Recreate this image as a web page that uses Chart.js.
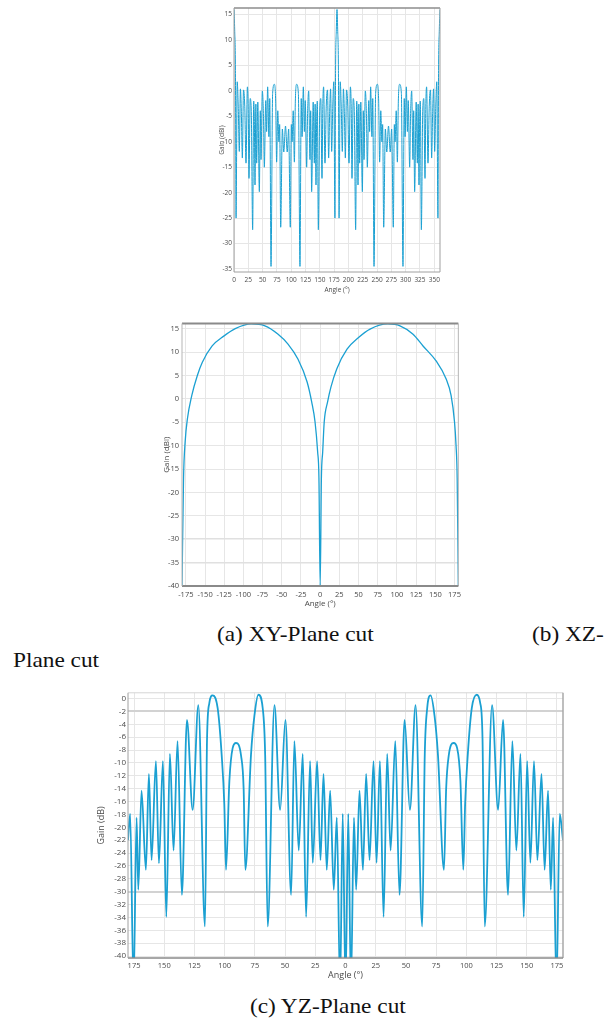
<!DOCTYPE html>
<html lang="en">
<head>
  <meta charset="UTF-8">
  <title>Gain plane cuts</title>
  <script src="https://cdn.jsdelivr.net/npm/chart.js"></script>
  <style>
    body {
      margin: 0;
      width: 612px;
      height: 1019px;
      background: #fff;
      position: relative;
      overflow: hidden;
    }
    canvas {
      position: absolute;
    }
    .cap {
      position: absolute;
      font-family: "Liberation Serif", "Times New Roman", serif;
      font-size: 21px;
      line-height: 1;
      color: #111;
      white-space: nowrap;
      transform: scaleX(1.11);
      transform-origin: left top;
    }
  </style>
</head>
<body>
  <canvas id="chartXY" width="236" height="298" style="left:212px; top:0px;"></canvas>
  <canvas id="chartXZ" width="310" height="298" style="left:155px; top:316px;"></canvas>
  <canvas id="chartYZ" width="480" height="298" style="left:90px; top:686px;"></canvas>

  <div class="cap" style="left:217px; top:624px;">(a) XY-Plane cut</div>
  <div class="cap" style="left:532px; top:624px;">(b) XZ-</div>
  <div class="cap" style="left:13px; top:650px;">Plane cut</div>
  <div class="cap" style="left:250px; top:996px;">(c) YZ-Plane cut</div>

  <script>
    // (a) XY-plane cut, angle 0..360 (deg), gain (dBi)
    const xyAngle = [
      0, 1.2, 2.5, 3.6, 5.6, 7.4, 9.3, 11.2, 12.8, 14.6, 16.6, 18.8, 21, 23.4, 24.8, 26.2, 28.3, 30.2, 32.6, 34.4,
      35.6, 36.7, 38.2, 39.6, 41.6, 44.3, 46, 47.2, 49.5, 51.5, 53, 55.5, 57, 58.8, 61, 62.5, 64.7, 67.5, 70.5, 72.8,
      74.5, 76.5, 78.5, 79.8, 81.6, 84.5, 87, 90,
      93, 95.5, 98.4, 100.2, 101.5, 103.5, 105.5, 107.2, 109.5, 112.5, 115.3, 117.5, 119, 121.2, 123, 124.5, 127, 128.5,
      130.5, 132.8, 134, 135.7, 138.4, 140.4, 141.8, 143.3, 144.4, 145.6, 147.4, 149.8, 151.7, 153.8, 155.2, 156.6, 159,
      161.2, 163.4, 165.4, 167.2, 168.8, 170.7, 172.6, 174.4, 176.4, 177.5, 178.8, 180,
      181.2, 182.5, 183.6, 185.6, 187.4, 189.3, 191.2, 192.8, 194.6, 196.6, 198.8, 201, 203.4, 204.8, 206.2, 208.3, 210.2,
      212.6, 214.4, 215.6, 216.7, 218.2, 219.6, 221.6, 224.3, 226, 227.2, 229.5, 231.5, 233, 235.5, 237, 238.8, 241, 242.5,
      244.7, 247.5, 250.5, 252.8, 254.5, 256.5, 258.5, 259.8, 261.6, 264.5, 267, 270,
      273, 275.5, 278.4, 280.2, 281.5, 283.5, 285.5, 287.2, 289.5, 292.5, 295.3, 297.5, 299, 301.2, 303, 304.5, 307, 308.5,
      310.5, 312.8, 314, 315.7, 318.4, 320.4, 321.8, 323.3, 324.4, 325.6, 327.4, 329.8, 331.7, 333.8, 335.2, 336.6, 339,
      341.2, 343.4, 345.4, 347.2, 348.8, 350.7, 352.6, 354.4, 356.4, 357.5, 358.8, 360
    ];
    const xyGain = [
      16, 12, 4, -25, 1.8, -3, -11.9, 0.4, -4, -13.2, 0.2, -3, -14.2, 0.8, -3, -17.2, -1.5, -4, -27.3, -2,
      -6, -18.5, -2.6, -14.2, -2.2, -19.8, -3.9, -13.5, 0, -5, -15, -1.9, -8, 0.8, -9, -1.5, -34.5, -0.5, 1.3, -2,
      -14, -3.9, -10, -6.6, -26.8, -7.5, -12, -6.9,
      -12, -7.5, -26.8, -6.6, -10, -3.9, -14, -2, 1.3, -0.5, -34.5, -1.5, -9, 0.8, -8, -1.9, -15, -5,
      0, -13.5, -3.9, -19.8, -2.2, -14.2, -2.6, -18.5, -6, -2, -27.3, -4, -1.5, -17.2, -3, 0.8, -14.2,
      -3, 0.2, -13.2, -4, 0.4, -11.9, -3, 1.8, -25, 4, 12, 16,
      12, 4, -25, 1.8, -3, -11.9, 0.4, -4, -13.2, 0.2, -3, -14.2, 0.8, -3, -17.2, -1.5, -4,
      -27.3, -2, -6, -18.5, -2.6, -14.2, -2.2, -19.8, -3.9, -13.5, 0, -5, -15, -1.9, -8, 0.8, -9, -1.5,
      -34.5, -0.5, 1.3, -2, -14, -3.9, -10, -6.6, -26.8, -7.5, -12, -6.9,
      -12, -7.5, -26.8, -6.6, -10, -3.9, -14, -2, 1.3, -0.5, -34.5, -1.5, -9, 0.8, -8, -1.9, -15, -5,
      0, -13.5, -3.9, -19.8, -2.2, -14.2, -2.6, -18.5, -6, -2, -27.3, -4, -1.5, -17.2, -3, 0.8, -14.2,
      -3, 0.2, -13.2, -4, 0.4, -11.9, -3, 1.8, -25, 4, 12, 16
    ];
    const xyTicksX = [0, 25, 50, 75, 100, 125, 150, 175, 200, 225, 250, 275, 300, 325, 350];
    const xyTicksY = [15, 10, 5, 0, -5, -10, -15, -20, -25, -30, -35];

    // (b) XZ-plane cut, angle -180..180 (deg), gain (dBi)
    const xzAngle = [
      -180, -178, -175.9, -172.9, -167.3, -160, -153.5, -140.7, -125.6, -110.6, -90, -72, -54.8, -41.9, -29, -17, -11,
      -6.7, -3.3, -1.6, 0, 1.6, 3.3, 5.3, 9.6, 14, 21.6, 35, 50, 65, 88, 104, 121, 134, 151, 164, 170.6, 175, 177,
      178.5, 180
    ];
    const xzGain = [
      -40, -17, -9.2, -4.2, 0.7, 5, 7.8, 11.3, 13.4, 15, 16, 15.6, 13.8, 11.7, 8.5, 3.6, -0.7,
      -4.9, -11.3, -16.9, -40, -16.9, -11.3, -4.9, -0.7, 2.5, 6.4, 10.6, 13.1, 14.9, 16, 15.6, 13.8, 11.3, 8.1, 4.3, 0.7, -4.9, -9.9,
      -17, -40
    ];
    const xzTicksX = [-175, -150, -125, -100, -75, -50, -25, 0, 25, 50, 75, 100, 125, 150, 175];
    const xzTicksY = [15, 10, 5, 0, -5, -10, -15, -20, -25, -30, -35, -40];

    // (c) YZ-plane cut, angle -180..180 (deg), gain (dB)
    const yzAngle = [
      -180, -178.2, -175.4, -172.9, -171.5, -168.8, -165.2, -162.7, -160.5, -156.9, -154.4, -151.1, -148.3, -145.3,
      -142.3, -139, -135.4, -131.2, -126.5, -121.8, -116.3, -114.6, -112.7, -110, -105.8, -102.5, -100.3, -98.9, -96.1,
      -93.4, -90.6, -86.4, -84.3, -82.9, -78.2, -75.4, -72.1, -68.5, -66.5, -64.4, -58.8, -54.1, -49.7, -45, -42.3,
      -38.7, -35.4, -32.6, -29.3, -27.1, -23.5, -20.7, -18.2, -15.5, -12.7, -9.7, -7.2, -4.5, -2.3, 0,
      2.3, 4.5, 7, 8.8, 11.6, 14.4, 17.1, 19.9, 23.2, 25.7, 28.5, 31.5, 34.5, 37.3, 41.2, 44.7, 48.9, 53.3, 58, 63.5,
      65.6, 67.6, 70.4, 73.7, 76.5, 81.5, 83.3, 85.4, 89.5, 92.4, 95.1, 97.5, 99, 101.2, 104.5, 108.6, 111.5, 113.4,
      115.2, 121.3, 126.3, 130.4, 134.5, 138.1, 141.4, 144.8, 147.5, 150.3, 153, 156, 158.8, 162.2, 164.8, 167.6,
      169.9, 171.8, 174.6, 177.3, 180
    ];
    const yzGain = [
      -22, -17.9, -45, -18.5, -29.7, -14.3, -26.6, -11.7, -25.1, -9.7, -25.6, -9.7, -33.9, -8.6,
      -23.6, -6.6, -30.5, -3.3, -17.3, -1.0, -35.4, -6.3, -0.7, 0.5, -1.5, -8.7, -16.4, -26.6, -12.8,
      -7.7, -6.9, -8.9, -14, -26.6, -8.7, -2.7, 0.6, -1.5, -8.7, -35.4, -1.0, -17.3, -3.3, -30.5, -6.6,
      -23.6, -8.6, -33.9, -9.7, -25.5, -9.7, -25.1, -11.7, -26.6, -14.3, -29.7, -18.5, -45, -17.9, -45,
      -17.9, -45, -18.5, -29.7, -14.3, -26.6, -11.7, -25.1, -9.7, -25.5, -9.7, -33.9, -8.6, -23.6, -6.6, -30.5, -3.3, -17.3, -1.0, -35.4,
      -8.7, -1.5, 0.5, -2.7, -8.7, -26.6, -14, -8.9, -6.9, -7.7, -12.8, -26.6, -16.4, -8.7, -1.5, 0.6, -0.7, -6.3,
      -35.4, -1.0, -17.3, -3.3, -30.5, -6.6, -23.6, -8.6, -33.9, -9.7, -25.5, -9.7, -25.1, -11.7, -26.6, -14.3,
      -29.7, -18.5, -45, -17.9, -22
    ];
    const yzTicksX = [-175, -150, -125, -100, -75, -50, -25, 0, 25, 50, 75, 100, 125, 150, 175];
    const yzLabelsX = ['175', '150', '125', '100', '75', '50', '25', '0', '25', '50', '75', '100', '125', '150', '175'];
    const yzTicksY = [0, -2, -4, -6, -8, -10, -12, -14, -16, -18, -20, -22, -24, -26, -28, -30, -32, -34, -36, -38, -40];

    Chart.defaults.font.family = "'Open Sans', 'Noto Sans', sans-serif";
    Chart.defaults.color = "#4a4a4a";

    // draws the outline of the plot area, one side at a time
    const framePlugin = {
      id: "frame",
      afterDraw(chart, args, opts) {
        const { ctx, chartArea: a } = chart;
        const side = (s, x1, y1, x2, y2) => {
          if (!s) return;
          ctx.strokeStyle = s[0];
          ctx.lineWidth = s[1];
          ctx.beginPath();
          ctx.moveTo(x1, y1);
          ctx.lineTo(x2, y2);
          ctx.stroke();
        };
        ctx.save();
        side(opts.top, a.left, a.top, a.right, a.top);
        side(opts.right, a.right, a.top, a.right, a.bottom);
        side(opts.bottom, a.left, a.bottom, a.right, a.bottom);
        side(opts.left, a.left, a.top, a.left, a.bottom);
        ctx.restore();
      }
    };

    function createChart(id, angles, gains, o) {
      const points = angles.map((a, i) => ({ x: a, y: gains[i] }));
      const dark = (v) => o.darkY && o.darkY.includes(v);
      return new Chart(document.getElementById(id), {
        type: "line",
        data: {
          datasets: [{
            data: points,
            borderColor: "#1ba0d2",
            borderWidth: o.lineWidth,
            pointRadius: 0,
            fill: false,
            cubicInterpolationMode: "monotone"
          }]
        },
        options: {
          responsive: false,
          animation: false,
          events: [],
          layout: { padding: o.padding },
          plugins: {
            legend: { display: false },
            tooltip: { enabled: false },
            frame: o.frame
          },
          scales: {
            x: {
              type: "linear",
              min: o.xMin,
              max: o.xMax,
              afterBuildTicks: (s) => { s.ticks = o.ticksX.map(v => ({ value: v })); },
              afterFit: (s) => { s.height = o.xAxisHeight; },
              grid: { color: "#e6e6e6", lineWidth: 1, drawTicks: false },
              border: { display: false },
              ticks: {
                autoSkip: false,
                maxRotation: 0,
                padding: o.xTickPad,
                font: { size: o.tickSize },
                callback: o.labelsX ? (v, i) => o.labelsX[i] : (v) => v
              },
              title: {
                display: true,
                text: "Angle (°)",
                font: { size: o.titleSize },
                padding: { top: 0, bottom: o.xTitlePad }
              }
            },
            y: {
              min: o.yMin,
              max: o.yMax,
              afterBuildTicks: (s) => { s.ticks = o.ticksY.map(v => ({ value: v })); },
              afterFit: (s) => { s.width = o.yAxisWidth; },
              grid: {
                color: (c) => dark(c.tick.value) ? o.darkColor : "#e6e6e6",
                lineWidth: (c) => dark(c.tick.value) ? o.darkWidth : 1,
                drawTicks: false
              },
              border: { display: false },
              ticks: {
                autoSkip: false,
                padding: o.yTickPad,
                font: { size: o.yTickSize || o.tickSize },
                callback: (v) => v
              },
              title: {
                display: true,
                text: o.yTitle,
                font: { size: o.titleSize },
                padding: { top: o.yTitlePad, bottom: 0 }
              }
            }
          }
        },
        plugins: [framePlugin]
      });
    }

    createChart("chartXY", xyAngle, xyGain, {
      lineWidth: 1,
      padding: { top: 8, right: 8, left: 0, bottom: 0 },
      xMin: 0, xMax: 360, yMin: -35.6, yMax: 16.3,
      ticksX: xyTicksX, ticksY: xyTicksY,
      xAxisHeight: 26, yAxisWidth: 22,
      tickSize: 6.5, titleSize: 6.5,
      xTickPad: 4, yTickPad: 2, xTitlePad: 4, yTitlePad: 6,
      yTitle: "Gain (dBi)",
      frame: { top: ["#8c8c8c", 1.5], right: ["#a0a0a0", 1], bottom: ["#a0a0a0", 1], left: ["#a0a0a0", 1] }
    });

    createChart("chartXZ", xzAngle, xzGain, {
      lineWidth: 1.3,
      padding: { top: 5, right: 5, left: 0, bottom: 0 },
      xMin: -180, xMax: 180, yMin: -40, yMax: 16.1,
      ticksX: xzTicksX, ticksY: xzTicksY,
      xAxisHeight: 28, yAxisWidth: 27,
      tickSize: 7.5, titleSize: 8,
      xTickPad: 4, yTickPad: 3, xTitlePad: 5, yTitlePad: 7,
      yTitle: "Gain (dBi)",
      darkY: [-30, -35], darkColor: "#e0e0e0", darkWidth: 1.5,
      frame: { top: ["#8a8a8a", 2], right: ["#b5b5b5", 1], bottom: ["#8a8a8a", 2], left: ["#b5b5b5", 1] }
    });

    createChart("chartYZ", yzAngle, yzGain, {
      lineWidth: 1.8,
      padding: { top: 5, right: 7, left: 0, bottom: 0 },
      xMin: -180, xMax: 180, yMin: -40.3, yMax: 0.9,
      ticksX: yzTicksX, ticksY: yzTicksY, labelsX: yzLabelsX,
      xAxisHeight: 26, yAxisWidth: 38,
      tickSize: 7.5, yTickSize: 8, titleSize: 9,
      xTickPad: 3, yTickPad: 2, xTitlePad: 3, yTitlePad: 6,
      yTitle: "Gain (dB)",
      darkY: [-2, -30], darkColor: "#d2d2d2", darkWidth: 2,
      frame: { top: ["#d5d5d5", 1], right: ["#a8a8a8", 1.5], bottom: ["#8a8a8a", 1.5], left: ["#a0a0a0", 1] }
    });
  </script>
</body>
</html>
